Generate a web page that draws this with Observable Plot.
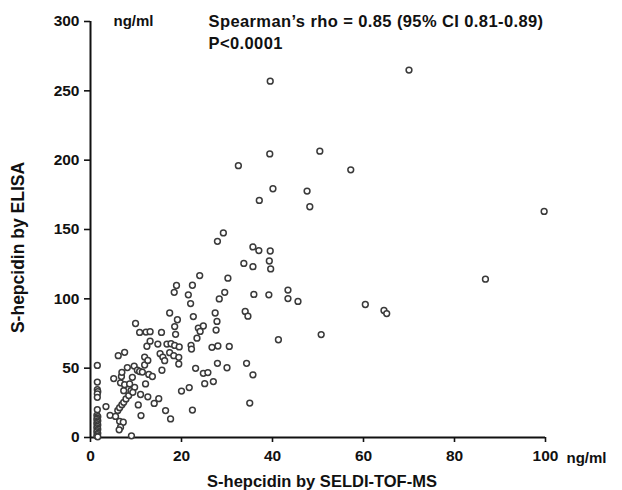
<!DOCTYPE html>
<html><head><meta charset="utf-8">
<script src="https://cdn.jsdelivr.net/npm/d3@7"></script>
<script src="https://cdn.jsdelivr.net/npm/@observablehq/plot@0.6"></script>
<style>body{margin:0;background:#fff} .stat text{letter-spacing:0.4px}</style>
</head><body><div id="chart"></div>
<script>
// S-hepcidin by SELDI-TOF-MS (ng/ml)
const seldi = [
  1.5,1.5,1.5,1.6,1.5,1.5,1.5,1.4,1.6,1.5,1.4,1.6,1.5,1.4,1.6,1.5,1.4,1.6,1.5,1.4,1.6,1.5,1.4,1.6,
  3.4,4.3,5.5,6.4,7.2,6.6,6.3,6.0,6.4,6.9,7.3,7.8,8.4,8.9,9.7,7.3,9.3,11.0,12.6,15.0,14.0,10.5,11.1,16.5,17.6,9.0,
  5.1,6.6,7.5,8.6,9.2,12.1,6.8,6.9,8.1,9.6,10.3,10.8,11.4,11.9,12.8,13.6,15.7,6.1,7.5,11.9,12.6,15.3,15.9,16.3,
  17.4,18.3,19.4,19.4,12.4,13.1,14.8,16.8,17.7,18.5,19.5,
  9.9,10.8,12.2,13.1,15.6,18.5,18.7,
  17.4,18.4,18.9,19.1,21.5,22.0,22.4,22.6,23.7,24.8,24.1,23.4,24.0,22.1,22.2,
  26.7,28.0,30.5,27.6,27.8,27.4,28.3,29.5,30.2,27.9,29.2,33.7,35.7,35.9,39.2,43.4,43.4,45.6,34.0,34.6,
  35.7,37.0,39.5,39.3,39.6,41.3,27.9,34.3,23.1,30.0,24.8,25.8,25.1,27.0,35.7,35.0,22.4,20.0,21.7,
  70.0,39.5,39.4,50.4,57.2,40.1,37.1,32.5,47.6,48.2,99.7,86.8,60.4,64.5,65.1,50.7
];
// S-hepcidin by ELISA (ng/ml)
const elisa = [
  52,40,34.5,33,31.5,29,20,16,15,14,13,12,11,10,9,8,7,6,5,4,3,2,1,0.5,
  22.3,16,15.2,11.7,11,7.4,5.5,19.5,21.5,23.7,25.4,27.8,30.2,33.8,36.2,33.8,32.6,31,29.3,28,24.6,23.5,15.8,19.4,13.4,1.2,
  42.5,39.4,38.1,38.6,43.4,38.6,44,47,50.4,51.5,48.5,47.6,47.2,52.3,45.5,44,48.5,59,61.4,58,55.6,60.4,58,55.4,
  61.2,59,57.8,53,65.8,69.5,67.4,67.4,67.6,66.4,65.3,
  82.2,75.8,76,76.3,75.8,80,74.4,
  89.8,104.7,109.6,84.9,102.9,96.6,109.8,87.2,78.9,80.4,76.5,71.6,116.8,66.5,63.8,
  65,66,65.7,77.5,83.7,89.8,99.9,104.7,114.9,141.5,147.5,125.5,123.2,103.2,102.9,106.3,100.2,98.1,90.9,87.5,
  137.4,134.8,134.5,127.3,121.6,70.5,53.5,53.5,49.9,50.3,46.3,46.8,38.8,40.3,45.2,24.8,19.8,33.5,36,
  265,257,204.5,206.5,193,179.4,171,196,177.7,166.4,163,114.2,95.9,91.6,89.4,74.2
];
const xTicks = [0, 20, 40, 60, 80, 100];
const yTicks = [0, 50, 100, 150, 200, 250, 300];
const xTitle = "S-hepcidin by SELDI-TOF-MS";
const yTitle = "S-hepcidin by ELISA";
const unit = "ng/ml";
const statLine1 = "Spearman\u2019s rho = 0.85 (95% CI 0.81-0.89)";
const statLine2 = "P<0.0001";

const data = seldi.map((x, i) => ({x, y: elisa[i]}));

const plot = Plot.plot({
  width: 622, height: 490,
  marginLeft: 90, marginRight: 77, marginTop: 21, marginBottom: 53,
  x: {domain: [0, 100]},
  y: {domain: [0, 300]},
  style: {fontFamily: "'Liberation Sans', Arial, sans-serif", fontSize: "15.5px", fontWeight: "bold", color: "#111", background: "#fff", overflow: "visible"},
  marks: [
    Plot.axisX({ticks: xTicks, tickSize: 5, tickPadding: 7, label: null, strokeWidth: 1.6, tickFormat: d => String(d)}),
    Plot.axisY({ticks: yTicks, tickSize: 6, tickPadding: 5, label: null, strokeWidth: 1.6, tickFormat: d => String(d)}),
    Plot.ruleX([0], {strokeWidth: 2, stroke: "#111"}),
    Plot.ruleY([0], {strokeWidth: 2, stroke: "#111"}),
    Plot.dot(data, {x: "x", y: "y", r: 2.9, stroke: "#3a3a3a", strokeWidth: 1.5, fill: "white"}),
    Plot.text([unit], {x: 0, y: 300, dx: 23, textAnchor: "start", fill: "#111", fontSize: 15}),
    Plot.text([unit], {x: 100, y: 0, dx: 21, dy: 21, textAnchor: "start", fill: "#111", fontSize: 15}),
    Plot.text([statLine1], {x: 0, y: 300, dx: 118, textAnchor: "start", fill: "#111", fontSize: 16.5, className: "stat"}),
    Plot.text([statLine2], {x: 0, y: 300, dx: 118, dy: 22, textAnchor: "start", fill: "#111", fontSize: 16.5, className: "stat"}),
    Plot.text([xTitle], {frameAnchor: "bottom", lineAnchor: "middle", textAnchor: "middle", dx: 4, dy: 44, fill: "#111", fontSize: 16.5}),
    Plot.text([yTitle], {frameAnchor: "left", lineAnchor: "middle", textAnchor: "middle", dx: -72, dy: 18, rotate: -90, fill: "#111", fontSize: 17.5})
  ]
});
document.getElementById("chart").appendChild(plot);
</script>
</body></html>
